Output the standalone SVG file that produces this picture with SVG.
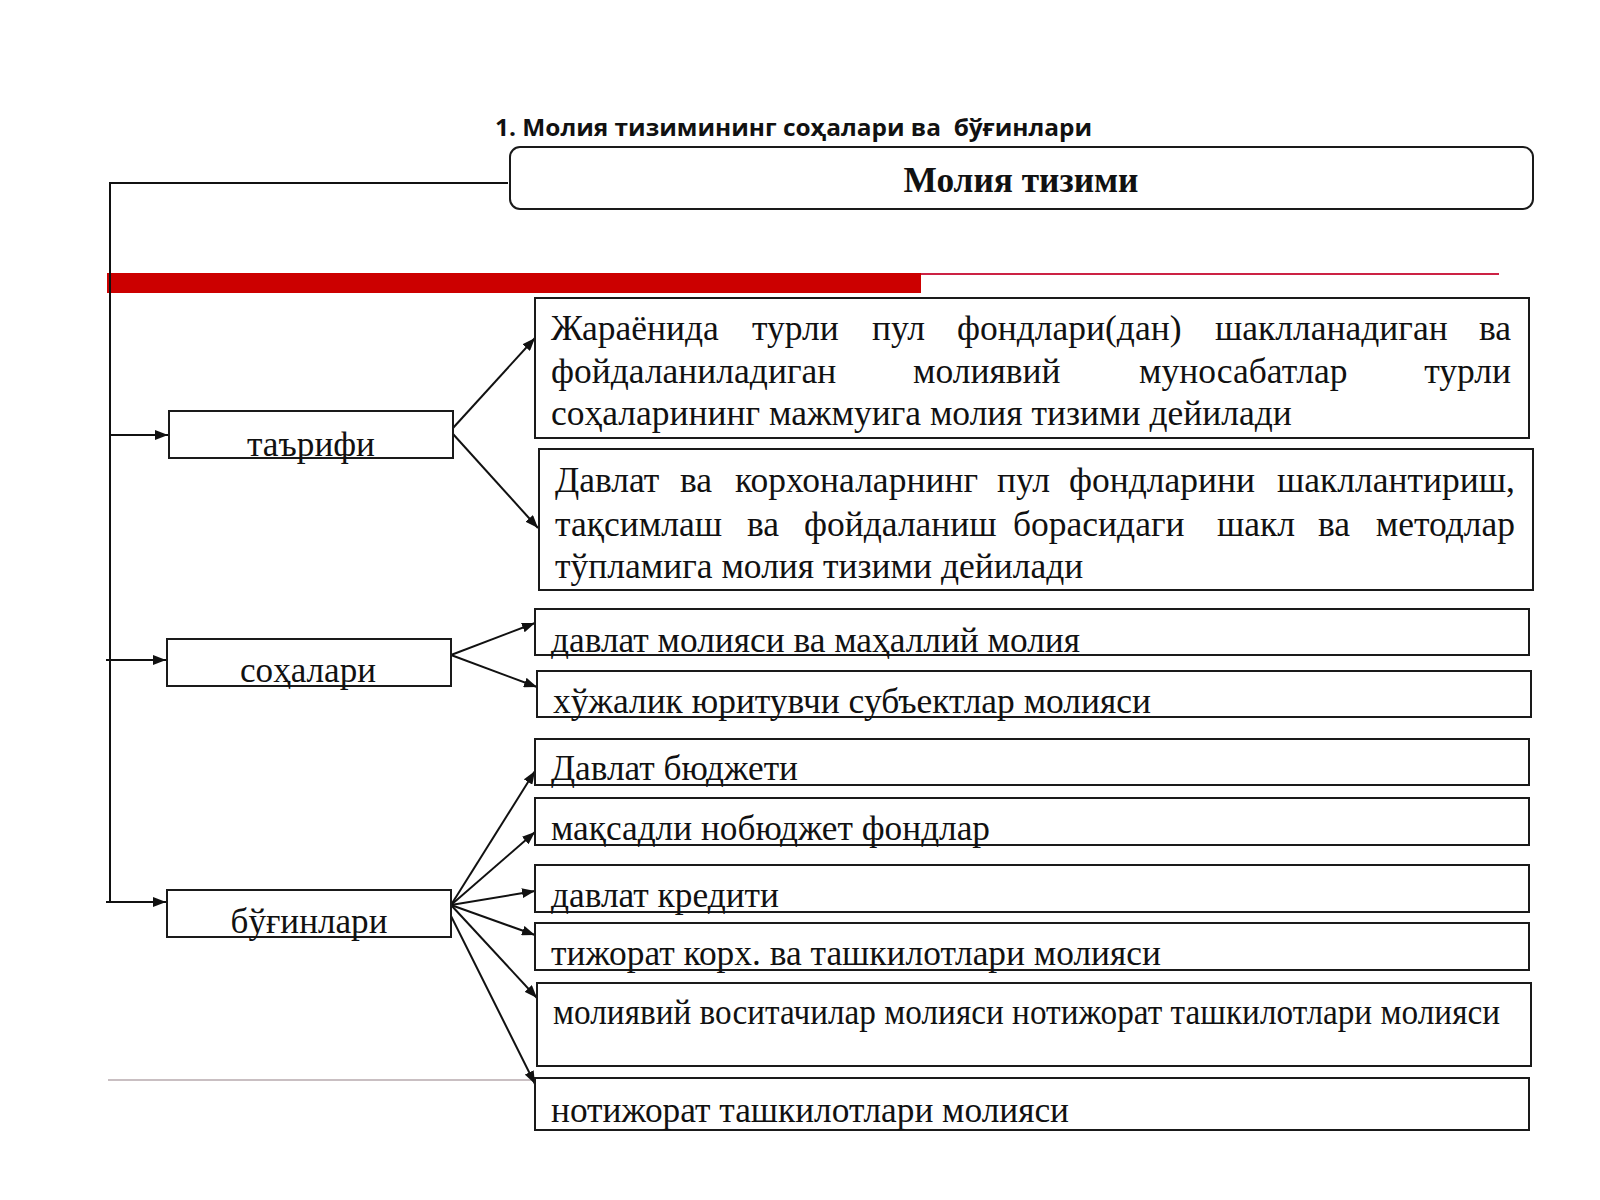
<svg xmlns="http://www.w3.org/2000/svg" width="1600" height="1200" viewBox="0 0 1600 1200">
<defs>
<style>
.box{fill:#fff;stroke:#1a1a1a;stroke-width:2}
.t{font-family:"Liberation Serif","Times New Roman",serif;font-size:35.5px;fill:#111}
.lbl{font-family:"Liberation Serif","Times New Roman",serif;font-size:35.5px;fill:#111;text-anchor:middle}
.conn{stroke:#111;stroke-width:2;fill:none}
</style>
<marker id="ah" viewBox="0 0 13 10" refX="13" refY="5" markerWidth="13" markerHeight="10" markerUnits="userSpaceOnUse" orient="auto">
<path d="M0,0 L13,5 L0,10 z" fill="#111"/>
</marker>
</defs>
<rect width="1600" height="1200" fill="#fff"/>

<text x="495" y="136" font-family="'Open Sans','Noto Sans',sans-serif" font-weight="bold" font-size="24" fill="#111" xml:space="preserve" textLength="597" lengthAdjust="spacingAndGlyphs">1. Молия тизимининг соҳалари ва  бўғинлари</text>

<g id="root">
<rect x="510" y="147" width="1023" height="62" rx="10" class="box"/>
<text x="1021" y="192" font-family="'Liberation Serif',serif" font-weight="bold" font-size="35.5" text-anchor="middle" fill="#111" textLength="235" lengthAdjust="spacingAndGlyphs">Молия тизими</text>
</g>

<g id="redbar">
<rect x="107" y="273" width="814" height="20" fill="#cc0000"/>
<line x1="921" y1="274" x2="1499" y2="274" stroke="#cc2244" stroke-width="2"/>
</g>
<line id="grayline" x1="108" y1="1080" x2="535" y2="1080" stroke="#c9bfc2" stroke-width="2"/>

<g id="connectors">
<polyline class="conn" points="508,183 110,183 110,903"/>
<line class="conn" x1="110" y1="435" x2="168" y2="435" marker-end="url(#ah)"/>
<line class="conn" x1="106" y1="660" x2="166" y2="660" marker-end="url(#ah)"/>
<line class="conn" x1="106" y1="902" x2="166" y2="902" marker-end="url(#ah)"/>
<line class="conn" x1="453" y1="428" x2="535" y2="338" marker-end="url(#ah)"/>
<line class="conn" x1="453" y1="434" x2="538" y2="528" marker-end="url(#ah)"/>
<line class="conn" x1="451" y1="655" x2="535" y2="623" marker-end="url(#ah)"/>
<line class="conn" x1="451" y1="655" x2="537" y2="687" marker-end="url(#ah)"/>
<line class="conn" x1="451" y1="905" x2="535" y2="771" marker-end="url(#ah)"/>
<line class="conn" x1="451" y1="905" x2="535" y2="832" marker-end="url(#ah)"/>
<line class="conn" x1="451" y1="905" x2="535" y2="891" marker-end="url(#ah)"/>
<line class="conn" x1="451" y1="905" x2="535" y2="935" marker-end="url(#ah)"/>
<line class="conn" x1="451" y1="905" x2="537" y2="998" marker-end="url(#ah)"/>
<line class="conn" x1="449" y1="912" x2="535" y2="1084" marker-end="url(#ah)"/>
</g>

<g id="tarifi">
<rect x="169" y="411" width="284" height="47" class="box"/>
<text x="311" y="456" class="lbl" textLength="128" lengthAdjust="spacingAndGlyphs">таърифи</text>
</g>
<g id="sohalari">
<rect x="167" y="639" width="284" height="47" class="box"/>
<text x="308" y="682" class="lbl" textLength="136" lengthAdjust="spacingAndGlyphs">соҳалари</text>
</g>
<g id="buginlari">
<rect x="167" y="890" width="284" height="47" class="box"/>
<text x="309" y="933" class="lbl" textLength="157" lengthAdjust="spacingAndGlyphs">бўғинлари</text>
</g>

<g id="def1">
<rect x="535" y="298" width="994" height="140" class="box"/>
<text class="t" y="340"><tspan x="551">Жараёнида</tspan><tspan x="752">турли</tspan><tspan x="872">пул</tspan><tspan x="957">фондлари(дан)</tspan><tspan x="1215">шаклланадиган</tspan><tspan x="1511" text-anchor="end">ва</tspan></text>
<text class="t" y="383"><tspan x="551">фойдаланиладиган</tspan><tspan x="913">молиявий</tspan><tspan x="1139">муносабатлар</tspan><tspan x="1511" text-anchor="end">турли</tspan></text>
<text class="t" x="551" y="425">соҳаларининг мажмуига молия тизими дейилади</text>
</g>
<g id="def2">
<rect x="539" y="449" width="994" height="141" class="box"/>
<text class="t" y="492"><tspan x="555">Давлат</tspan><tspan x="680">ва</tspan><tspan x="735">корхоналарнинг</tspan><tspan x="997">пул</tspan><tspan x="1069">фондларини</tspan><tspan x="1515" text-anchor="end">шакллантириш,</tspan></text>
<text class="t" y="536"><tspan x="555">тақсимлаш</tspan><tspan x="747">ва</tspan><tspan x="804">фойдаланиш</tspan><tspan x="1013">борасидаги</tspan><tspan x="1217">шакл</tspan><tspan x="1318">ва</tspan><tspan x="1515" text-anchor="end">методлар</tspan></text>
<text class="t" x="555" y="578">тўпламига молия тизими дейилади</text>
</g>

<g id="s1">
<rect x="535" y="609" width="994" height="46" class="box"/>
<text class="t" x="551" y="652" textLength="529" lengthAdjust="spacingAndGlyphs">давлат молияси ва маҳаллий молия</text>
</g>
<g id="s2">
<rect x="537" y="671" width="994" height="46" class="box"/>
<text class="t" x="553" y="713" textLength="598" lengthAdjust="spacingAndGlyphs">хўжалик юритувчи субъектлар молияси</text>
</g>
<g id="b1">
<rect x="535" y="739" width="994" height="46" class="box"/>
<text class="t" x="551" y="780" textLength="247" lengthAdjust="spacingAndGlyphs">Давлат бюджети</text>
</g>
<g id="b2">
<rect x="535" y="798" width="994" height="47" class="box"/>
<text class="t" x="551" y="840" textLength="439" lengthAdjust="spacingAndGlyphs">мақсадли нобюджет фондлар</text>
</g>
<g id="b3">
<rect x="535" y="865" width="994" height="47" class="box"/>
<text class="t" x="551" y="907" textLength="228" lengthAdjust="spacingAndGlyphs">давлат кредити</text>
</g>
<g id="b4">
<rect x="535" y="923" width="994" height="47" class="box"/>
<text class="t" x="551" y="965" textLength="610" lengthAdjust="spacingAndGlyphs">тижорат корх. ва ташкилотлари молияси</text>
</g>
<g id="b5">
<rect x="537" y="983" width="994" height="83" class="box"/>
<text class="t" x="553" y="1024" font-size="32" textLength="947" lengthAdjust="spacingAndGlyphs">молиявий воситачилар молияси нотижорат ташкилотлари молияси</text>
</g>
<g id="b6">
<rect x="535" y="1078" width="994" height="52" class="box"/>
<text class="t" x="551" y="1122" textLength="518" lengthAdjust="spacingAndGlyphs">нотижорат ташкилотлари молияси</text>
</g>
</svg>
